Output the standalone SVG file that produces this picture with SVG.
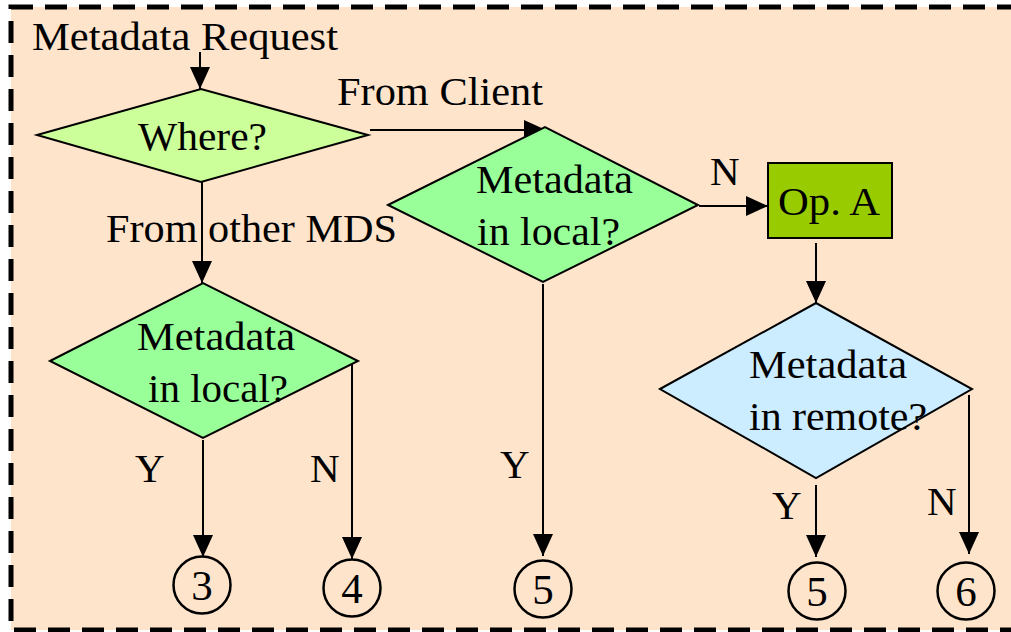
<svg xmlns="http://www.w3.org/2000/svg" width="1011" height="632" viewBox="0 0 1011 632">
<defs>
<style>
.t{font-family:"Liberation Serif","Times New Roman",serif;font-size:41px;fill:#000}
.n{font-family:"Liberation Serif","Times New Roman",serif;font-size:43px;fill:#000;text-anchor:middle}
.shape{stroke:#000;stroke-width:2}
.conn line{stroke:#000;stroke-width:2;fill:none}
.circ{fill:none;stroke:#000;stroke-width:2.5}
</style>
<marker id="arr" markerUnits="userSpaceOnUse" markerWidth="22" markerHeight="20" refX="22" refY="10" orient="auto">
<path d="M0,0 L22,10 L0,20 z" fill="#000"/>
</marker>
</defs>
<rect id="frame" x="11" y="7" width="1010" height="623" fill="#FDE4CB" stroke="#000" stroke-width="5" stroke-dasharray="22 12"/>

<g class="conn" id="connectors">
<line x1="200" y1="52" x2="200" y2="89" marker-end="url(#arr)"/>
<line x1="370" y1="130" x2="546" y2="130" marker-end="url(#arr)"/>
<line x1="202" y1="182" x2="202" y2="283" marker-end="url(#arr)"/>
<line x1="203" y1="440" x2="203" y2="557" marker-end="url(#arr)"/>
<line x1="352" y1="363" x2="352" y2="559" marker-end="url(#arr)"/>
<line x1="543" y1="284" x2="543" y2="556" marker-end="url(#arr)"/>
<line x1="699" y1="206" x2="768" y2="206" marker-end="url(#arr)"/>
<line x1="816" y1="243" x2="816" y2="303" marker-end="url(#arr)"/>
<line x1="816" y1="485" x2="816" y2="557" marker-end="url(#arr)"/>
<line x1="969" y1="395" x2="969" y2="554" marker-end="url(#arr)"/>
</g>

<g id="start-label">
<text class="t" x="32" y="50" textLength="306" lengthAdjust="spacingAndGlyphs">Metadata Request</text>
</g>

<g id="where">
<polygon class="shape" points="37,135 201,89 368,135 201,182" fill="#CCFF99"/>
<text class="t" x="138" y="150" textLength="129" lengthAdjust="spacingAndGlyphs">Where?</text>
</g>

<g id="label-client"><text class="t" x="337" y="105" textLength="206" lengthAdjust="spacingAndGlyphs">From Client</text></g>
<g id="label-mds"><text class="t" x="106" y="242" textLength="291" lengthAdjust="spacingAndGlyphs">From other MDS</text></g>

<g id="local-client">
<polygon class="shape" points="388,205 545,127 698,205 543,282" fill="#99FF99"/>
<text class="t" x="476" y="193" textLength="157" lengthAdjust="spacingAndGlyphs">Metadata</text>
<text class="t" x="477" y="245" textLength="143" lengthAdjust="spacingAndGlyphs">in local?</text>
</g>

<g id="local-mds">
<polygon class="shape" points="50,361 203,283 358,361 203,438" fill="#99FF99"/>
<text class="t" x="137" y="350" textLength="158" lengthAdjust="spacingAndGlyphs">Metadata</text>
<text class="t" x="148" y="402" textLength="140" lengthAdjust="spacingAndGlyphs">in local?</text>
</g>

<g id="opA">
<rect class="shape" x="768" y="163" width="124" height="75" fill="#99CC00"/>
<text class="t" x="778" y="215" textLength="102" lengthAdjust="spacingAndGlyphs">Op. A</text>
</g>

<g id="remote">
<polygon class="shape" points="660,389 816,303 972,389 816,478" fill="#CCECFF"/>
<text class="t" x="749" y="378" textLength="158" lengthAdjust="spacingAndGlyphs">Metadata</text>
<text class="t" x="749" y="430" textLength="178" lengthAdjust="spacingAndGlyphs">in remote?</text>
</g>

<g id="edge-labels">
<text class="t" x="710" y="185">N</text>
<text class="t" x="135" y="482">Y</text>
<text class="t" x="310" y="482">N</text>
<text class="t" x="500" y="478">Y</text>
<text class="t" x="772" y="519">Y</text>
<text class="t" x="927" y="515">N</text>
</g>

<g id="c3"><circle class="circ" cx="202" cy="585" r="28.5"/><text class="n" x="202" y="600">3</text></g>
<g id="c4"><circle class="circ" cx="352" cy="588" r="28.5"/><text class="n" x="352" y="603">4</text></g>
<g id="c5a"><circle class="circ" cx="543" cy="589" r="28.5"/><text class="n" x="543" y="604">5</text></g>
<g id="c5b"><circle class="circ" cx="817" cy="591" r="28.5"/><text class="n" x="817" y="606">5</text></g>
<g id="c6"><circle class="circ" cx="966" cy="591" r="28.5"/><text class="n" x="966" y="606">6</text></g>
</svg>
